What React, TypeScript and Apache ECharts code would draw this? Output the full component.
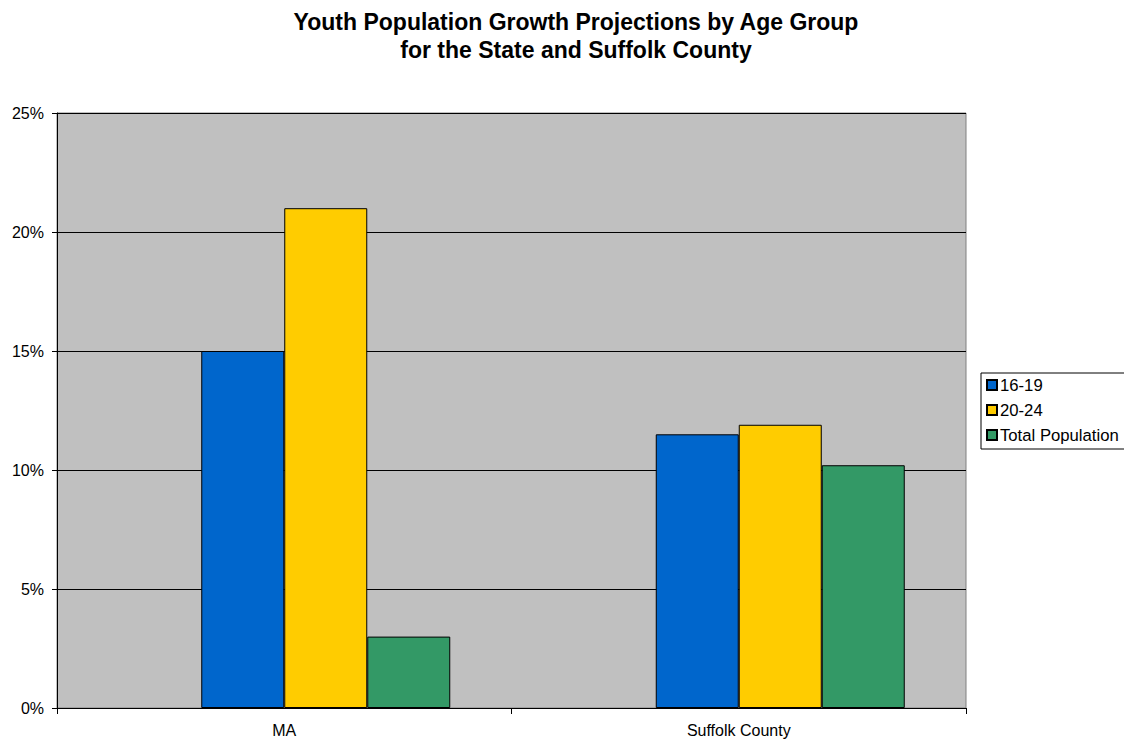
import React, { useEffect, useRef } from "react";
import * as echarts from "echarts";

const categories = ["MA", "Suffolk County"];
const seriesNames = ["16-19", "20-24", "Total Population"];
const youth1619 = [15, 11.5];
const youth2024 = [21, 11.9];
const totalPop = [3, 10.2];
const colors = ["#0066CC", "#FFCC00", "#339966"];
const yTicks = [0, 5, 10, 15, 20, 25];

const FONT = "Liberation Sans, Arial, sans-serif";

export default function App() {
  const ref = useRef<HTMLDivElement>(null);

  useEffect(() => {
    document.body.style.margin = "0";
    const chart = echarts.init(ref.current!, null, { renderer: "svg" });
    const barStyle = (c: string) => ({ color: c, borderColor: "#000", borderWidth: 1 });
    const values = [youth1619, youth2024, totalPop];
    chart.setOption({
      animation: false,
      backgroundColor: "#fff",
      title: {
        text: "Youth Population Growth Projections by Age Group\nfor the State and Suffolk County",
        left: 571,
        top: 3,
        textAlign: "center",
        textStyle: {
          fontFamily: FONT,
          fontSize: 23,
          fontWeight: "bold",
          color: "#000",
          lineHeight: 28,
        },
      },
      grid: { left: 57, right: 158, top: 113, bottom: 34, show: true, backgroundColor: "#C0C0C0", borderColor: "#808080", borderWidth: 1 },
      legend: {
        data: seriesNames,
        orient: "vertical",
        left: 981,
        top: 373,
        padding: [3, 30, 5, 5],
        itemGap: 7,
        itemWidth: 10,
        itemHeight: 10,
        icon: "rect",
        borderColor: "#000",
        borderWidth: 1,
        backgroundColor: "#fff",
        textStyle: { fontFamily: FONT, fontSize: 16.7, color: "#000", lineHeight: 18, padding: [0, 0, 0, -2] },
      },
      xAxis: {
        type: "category",
        data: categories,
        axisLine: { lineStyle: { color: "#000" } },
        axisTick: { show: true, length: 6, lineStyle: { color: "#000" } },
        axisLabel: { fontFamily: FONT, fontSize: 16, color: "#000", margin: 14 },
      },
      yAxis: {
        type: "value",
        min: 0,
        max: 25,
        interval: 5,
        axisLine: { show: true, lineStyle: { color: "#000" } },
        axisTick: { show: true, length: 5, lineStyle: { color: "#000" } },
        axisLabel: {
          fontFamily: FONT,
          fontSize: 16,
          color: "#000",
          margin: 13,
          formatter: (v: number) => (yTicks.includes(v) ? v + "%" : ""),
        },
        splitLine: { show: true, lineStyle: { color: "#000", width: 1 } },
      },
      series: [
        // empty leading slot keeps each group shifted as in the original layout
        { name: "_blank", type: "bar", data: [null, null], barWidth: 83, barGap: "0%" },
        ...seriesNames.map((n, i) => ({
          name: n,
          type: "bar",
          data: values[i],
          barWidth: 83,
          barGap: "0%",
          itemStyle: barStyle(colors[i]),
        })),
      ],
    });
    return () => chart.dispose();
  }, []);

  return <div ref={ref} style={{ position: "absolute", left: 0, top: 0, width: 1124, height: 742 }} />;
}
